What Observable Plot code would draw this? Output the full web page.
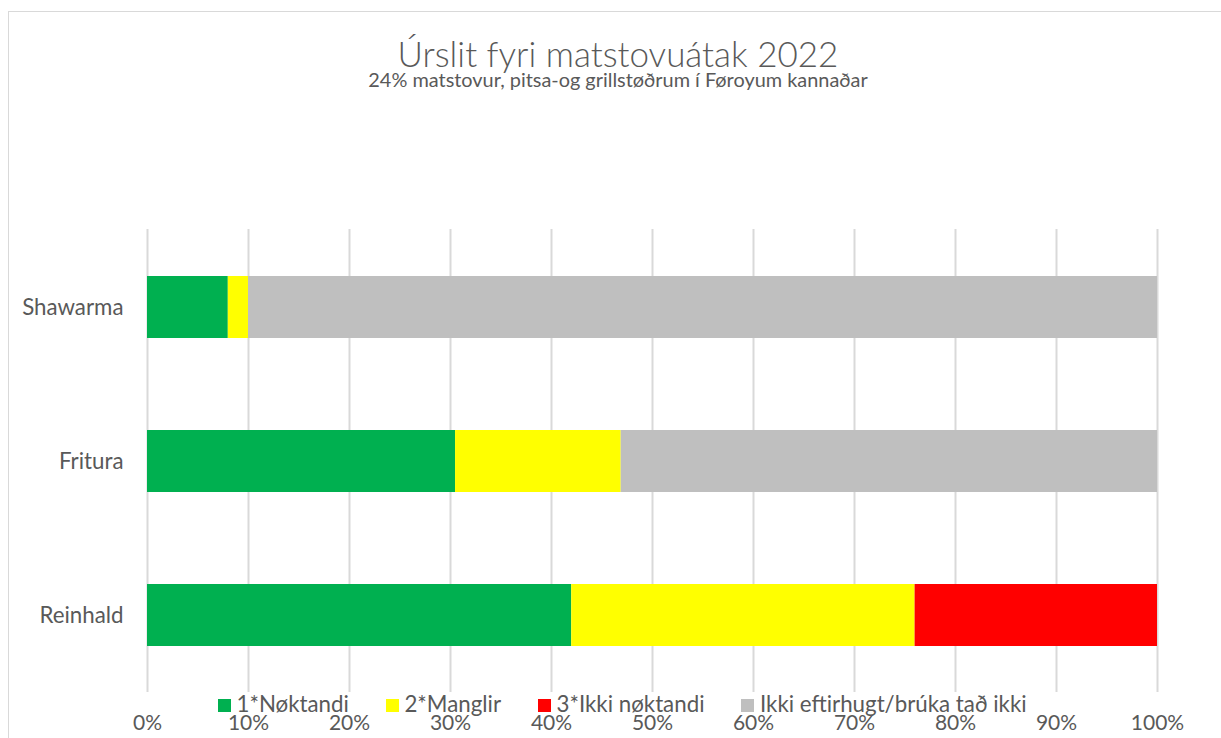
<!DOCTYPE html>
<html><head><meta charset="utf-8">
<script src="https://cdn.jsdelivr.net/npm/d3@7"></script>
<script src="https://cdn.jsdelivr.net/npm/@observablehq/plot@0.6"></script>
<style>
body{margin:0;background:#fff;}
#wrap{position:relative;width:1221px;height:738px;overflow:hidden;font-family:Lato,"Open Sans",sans-serif;color:#595959;background:#fff;}
#border{position:absolute;left:8px;top:11px;width:1300px;height:800px;border:1.5px solid #d9d9d9;box-sizing:border-box;}
#title{position:absolute;left:8px;width:1220px;top:35.7px;text-align:center;font-size:35px;line-height:1;font-weight:300;white-space:nowrap;}
#subtitle{position:absolute;left:8px;width:1220px;top:70.3px;text-align:center;font-size:19.9px;line-height:1;white-space:nowrap;}
#chart{position:absolute;left:0;top:0;}
#legend{position:absolute;left:218px;top:693.2px;font-size:22.3px;line-height:1;white-space:nowrap;display:flex;gap:37px;}
#legend .item{display:inline-block;}
#legend .sw{display:inline-block;width:13px;height:13px;margin-right:5.5px;vertical-align:baseline;}
</style>
</head><body>
<div id="wrap">
  <div id="border"></div>
  <div id="chart"></div>
  <div id="title">Úrslit fyri matstovuátak 2022</div>
  <div id="subtitle">24% matstovur, pitsa-og grillstøðrum í Føroyum kannaðar</div>
  <div id="legend"></div>
</div>
<script>
const categories = ["Shawarma", "Fritura", "Reinhald"];
const seriesNames = ["1*Nøktandi", "2*Manglir", "3*Ikki nøktandi", "Ikki eftirhugt/brúka tað ikki"];
const seriesColors = ["#00b050", "#ffff00", "#ff0000", "#bfbfbf"];
const noktandi = [0.08, 0.305, 0.42];
const manglir = [0.02, 0.164, 0.34];
const ikkiNoktandi = [0, 0, 0.24];
const ikkiEftirhugt = [0.90, 0.531, 0];
const xTicks = [0, 0.1, 0.2, 0.3, 0.4, 0.5, 0.6, 0.7, 0.8, 0.9, 1.0];

const seriesValues = [noktandi, manglir, ikkiNoktandi, ikkiEftirhugt];
const rows = [];
seriesNames.forEach((s, i) => categories.forEach((c, j) => rows.push({category: c, series: s, value: seriesValues[i][j]})));

const plot = Plot.plot({
  width: 1221,
  height: 738,
  marginTop: 229,
  marginBottom: 46,
  marginLeft: 147,
  marginRight: 64,
  style: {fontFamily: "Lato, 'Open Sans', sans-serif", fontSize: "21px", color: "#595959", background: "transparent", overflow: "visible"},
  x: {domain: [0, 1]},
  y: {domain: categories, paddingInner: 0.6, paddingOuter: 0.3},
  color: {domain: seriesNames, range: seriesColors},
  marks: [
    Plot.gridX(xTicks, {stroke: "#d9d9d9", strokeWidth: 2, strokeOpacity: 1}),
    Plot.barX(rows, {y: "category", x: "value", fill: "series"}),
    Plot.axisX(xTicks, {tickSize: 0, tickPadding: 23, tickFormat: d3.format(".0%"), fill: "#595959", label: null}),
    Plot.axisY({tickSize: 0, tickPadding: 24, fill: "#595959", fontSize: 22.3, label: null})
  ]
});
document.getElementById("chart").appendChild(plot);

const legend = document.getElementById("legend");
seriesNames.forEach((s, i) => {
  const item = document.createElement("span");
  item.className = "item";
  const sw = document.createElement("span");
  sw.className = "sw";
  sw.style.background = seriesColors[i];
  item.appendChild(sw);
  item.appendChild(document.createTextNode(s));
  legend.appendChild(item);
});
</script>
</body></html>
